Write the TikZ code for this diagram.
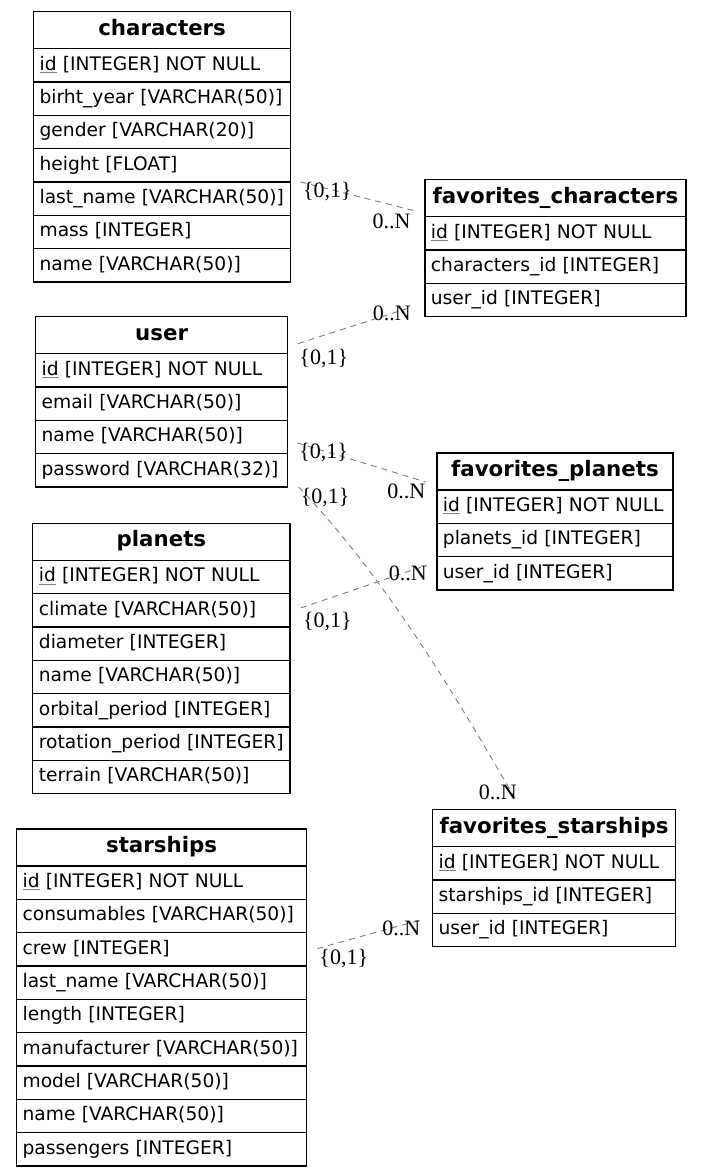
\documentclass[tikz,border=0pt]{standalone}
\usepackage{fontspec}
\setmainfont{DejaVu Sans}
\newfontfamily\cardfont{Liberation Serif}
\usepackage{tikz}
\usetikzlibrary{matrix}

\definecolor{relgray}{RGB}{128,128,128}
\newcommand{\pkey}[1]{\textcolor{gray}{\underline{\textcolor{black}{#1}}}}

\tikzset{
	cell/.style={draw, line width=0.9pt, inner xsep=4.5pt, inner ysep=0pt, outer sep=0pt,
		text height=10.5pt, text depth=3pt,
		minimum height=25pt, align=left, font=\fontsize{14}{16}\selectfont},
	head/.style={cell, minimum height=27.75pt, align=center, font=\fontsize{16}{18}\selectfont\bfseries},
	table/.style={matrix of nodes, inner sep=0pt, outer sep=0pt, row sep=-0.9pt, anchor=north west,
		nodes={cell, text width=#1}, row 1/.style={nodes={head}}},
	rel/.style={relgray, line width=0.7pt, dash pattern=on 4.5pt off 3.75pt},
	card/.style={font=\cardfont\fontsize{16.5}{18}\selectfont, inner sep=0pt, text=black}
}

\begin{document}
\begin{tikzpicture}[x=0.75pt, y=-0.75pt]
				\path[use as bounding box, fill=white] (0,0) rectangle (700,1176);

				\matrix (chars) [table=183.75pt] at (33,11)
				{
				characters                   \\
				\pkey{id} [INTEGER] NOT NULL \\
				birht\_year [VARCHAR(50)]    \\
				gender [VARCHAR(20)]         \\
				height [FLOAT]               \\
				last\_name [VARCHAR(50)]     \\
				mass [INTEGER]               \\
				name [VARCHAR(50)]           \\
				};
				\matrix (favc) [table=186.75pt] at (424.3,179)
				{
				favorites\_characters        \\
				\pkey{id} [INTEGER] NOT NULL \\
				characters\_id [INTEGER]     \\
				user\_id [INTEGER]           \\
				};
				\matrix (user) [table=180pt] at (35,316)
				{
				user                         \\
				\pkey{id} [INTEGER] NOT NULL \\
				email [VARCHAR(50)]          \\
				name [VARCHAR(50)]           \\
				password [VARCHAR(32)]       \\
				};
				\matrix (favp) [table=168pt] at (436.3,452.3)
				{
				favorites\_planets           \\
				\pkey{id} [INTEGER] NOT NULL \\
				planets\_id [INTEGER]        \\
				user\_id [INTEGER]           \\
				};
				\matrix (planets) [table=183.75pt] at (32.3,522.7)
				{
				planets                      \\
				\pkey{id} [INTEGER] NOT NULL \\
				climate [VARCHAR(50)]        \\
				diameter [INTEGER]           \\
				name [VARCHAR(50)]           \\
				orbital\_period [INTEGER]    \\
				rotation\_period [INTEGER]   \\
				terrain [VARCHAR(50)]        \\
				};
				\matrix (ships) [table=208.5pt] at (16,828.3)
				{
				starships                    \\
				\pkey{id} [INTEGER] NOT NULL \\
				consumables [VARCHAR(50)]    \\
				crew [INTEGER]               \\
				last\_name [VARCHAR(50)]     \\
				length [INTEGER]             \\
				manufacturer [VARCHAR(50)]   \\
				model [VARCHAR(50)]          \\
				name [VARCHAR(50)]           \\
				passengers [INTEGER]         \\
				};
				\matrix (favs) [table=173.25pt] at (432,809)
				{
				favorites\_starships         \\
				\pkey{id} [INTEGER] NOT NULL \\
				starships\_id [INTEGER]      \\
				user\_id [INTEGER]           \\
				};

				% relations
				\path[rel]
				([shift={(10,0)}]chars-6-1.north east) edge
						node[card, at start, anchor=north west, shift={(2,0)}] {\{0,1\}}
						node[card, at end, anchor=north east, shift={(-3,3)}] {0..N}
						([shift={(-11,-6)}]favc-1-1.south west)
				([shift={(10.4,-10)}]user-1-1.south east) edge
						node[card, at start, anchor=north west, shift={(1,5)}] {\{0,1\}}
						node[card, at end, anchor=north east, shift={(-1,-2)}] {0..N}
						([shift={(-12.6,7)}]favc-4-1.west)
				([shift={(9.7,-10.7)}]user-4-1.south east) edge
						node[card, at start, anchor=north west, shift={(1.5,0)}] {\{0,1\}}
						node[card, at end, anchor=north east, shift={(0,1.5)}] {0..N}
						([shift={(-11.3,-8)}]favp-1-1.south west)
				([shift={(11,-2.4)}]planets-3-1.east) edge
						node[card, at start, anchor=north west, shift={(1.7,3.4)}] {\{0,1\}}
						node[card, at end, anchor=north east, shift={(0.7,0)}] {0..N}
						([shift={(-10.3,8.7)}]favp-4-1.north west)
				([shift={(10.7,-0.7)}]ships-4-1.east) edge
						node[card, at start, anchor=north west, shift={(1.7,0)}] {\{0,1\}}
						node[card, at end, anchor=north east, shift={(-2,1)}] {0..N}
						([shift={(-10,-10.5)}]favs-4-1.west);
				\draw[rel] ([shift={(11,0)}]user-5-1.south east)
						.. controls +(87,91) and +(-62,-107) .. ([shift={(84.7,-7.3)}]favs-1-1.north west)
						node[card, pos=0, anchor=north west, shift={(1.7,1.3)}] {\{0,1\}}
						node[card, pos=1, anchor=south east, shift={(0,-1.7)}] {0..N};
\end{tikzpicture}
\end{document}
